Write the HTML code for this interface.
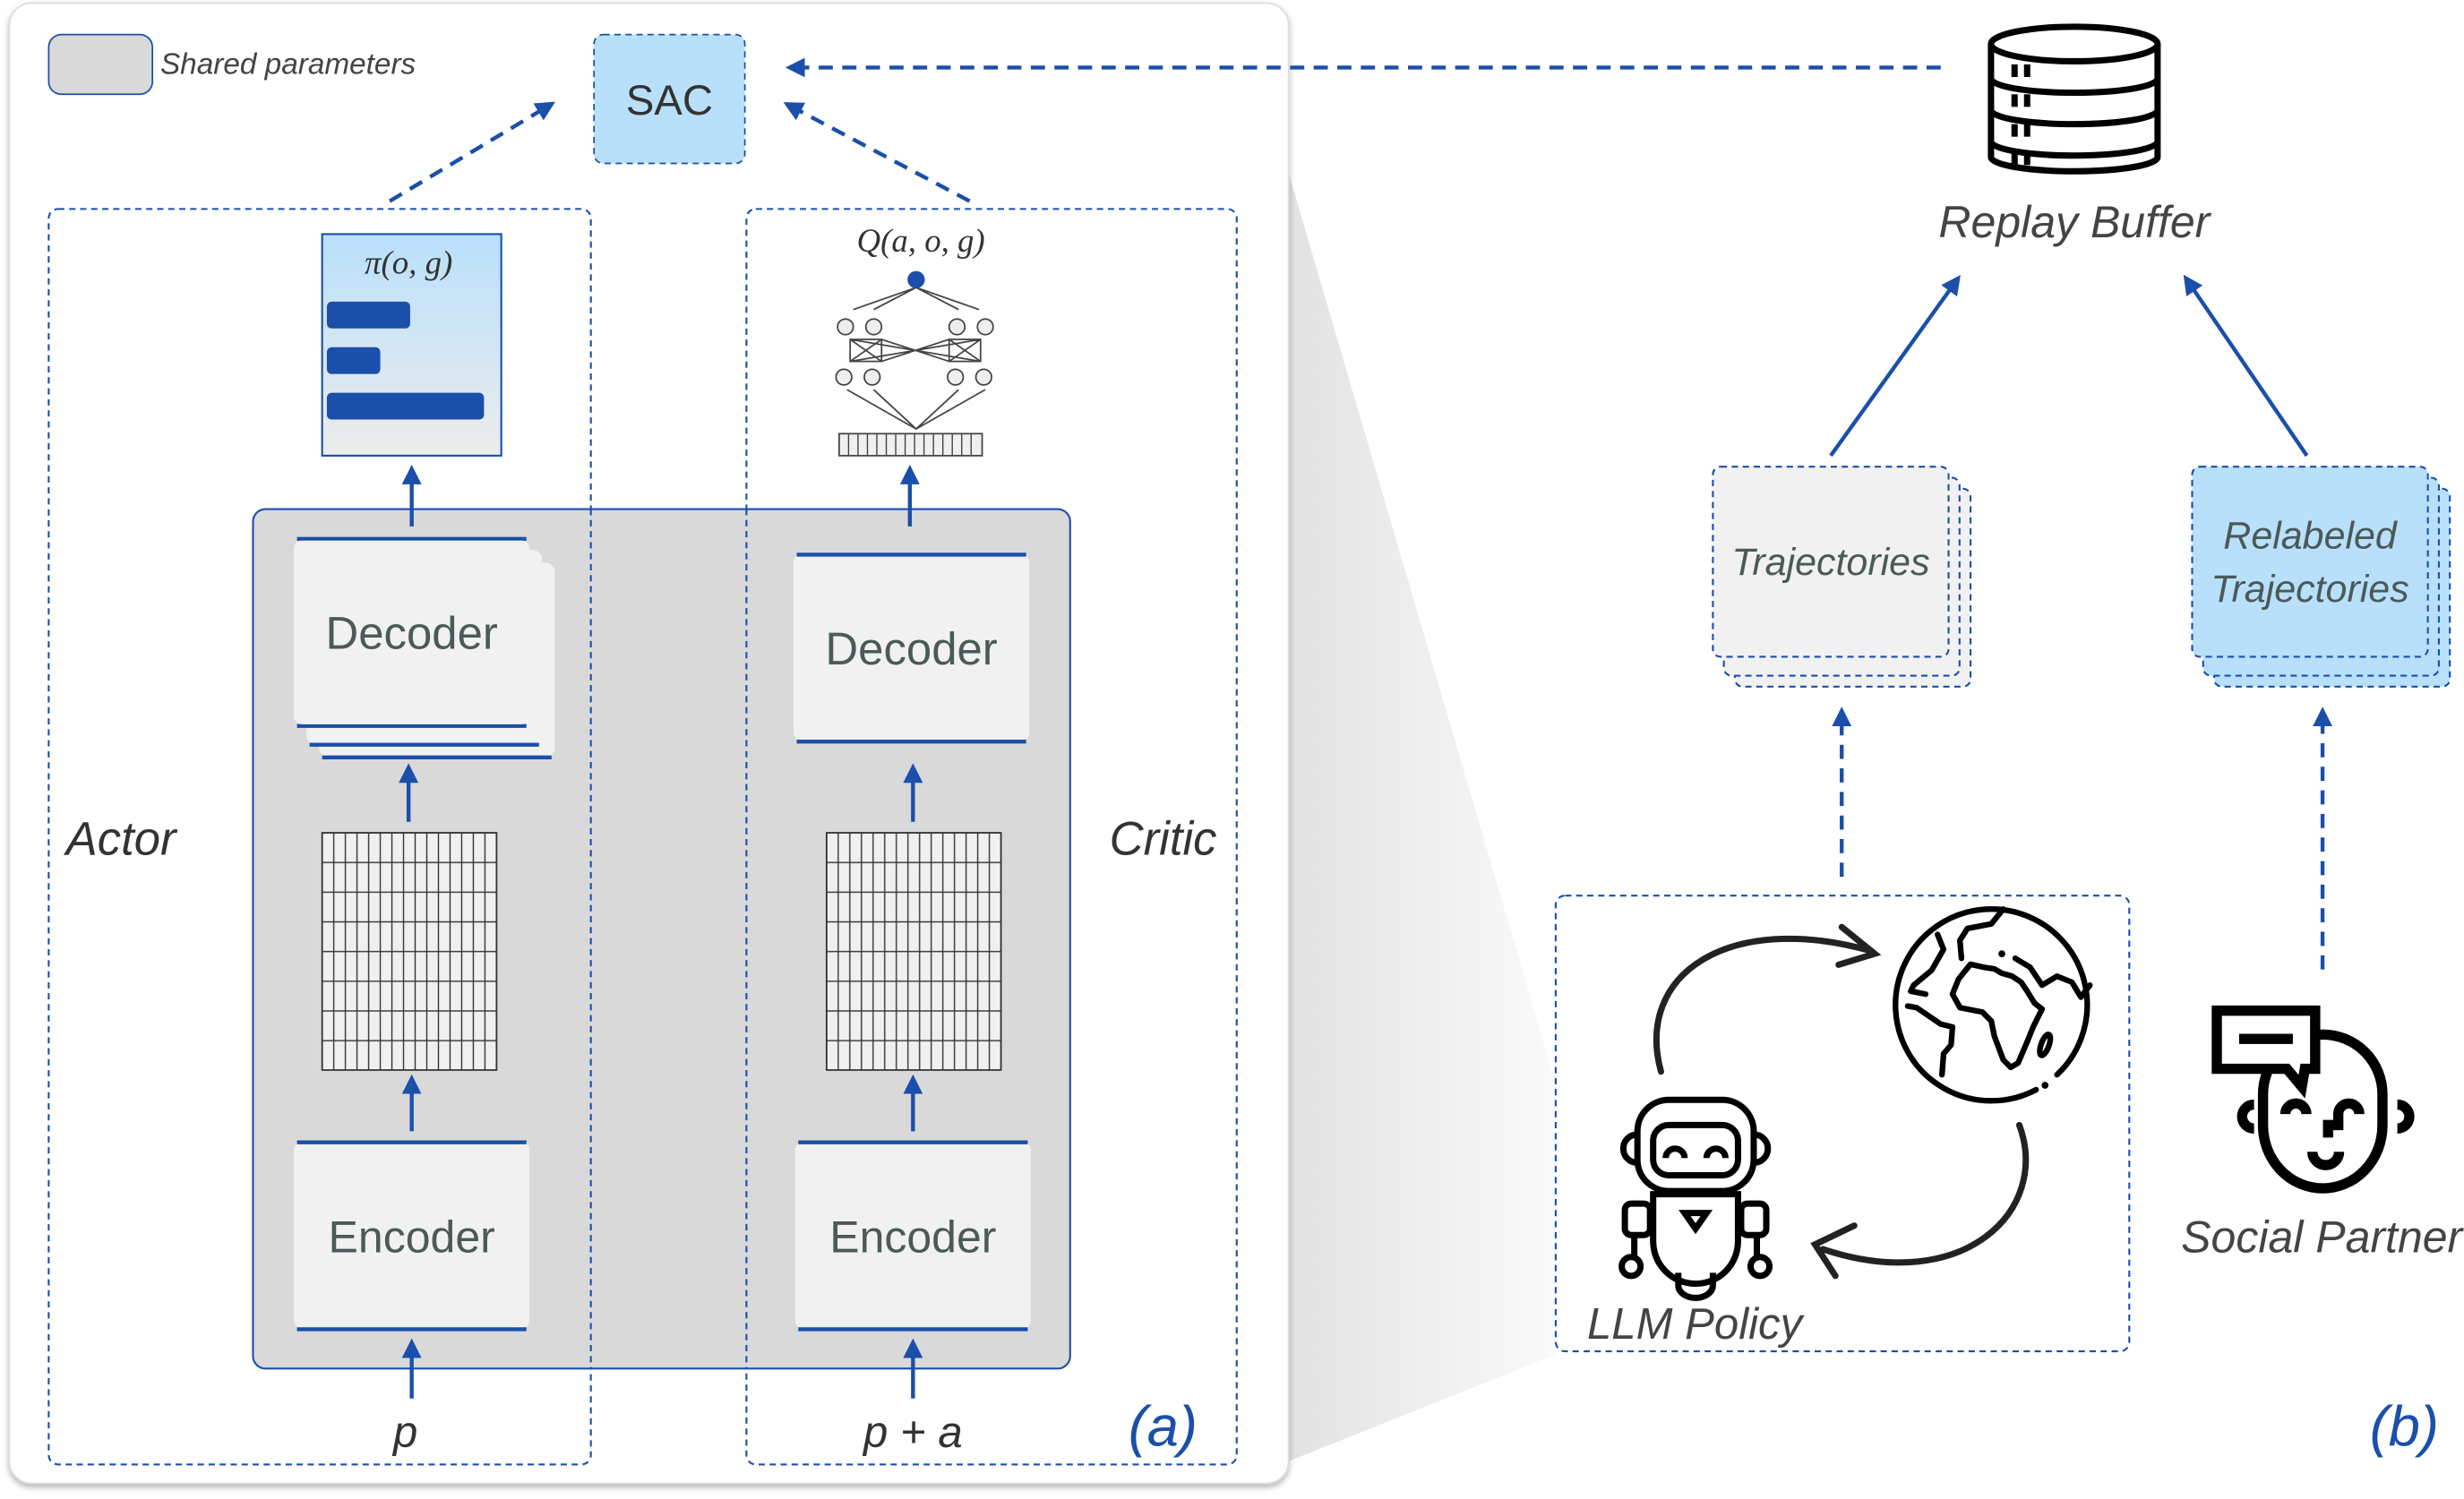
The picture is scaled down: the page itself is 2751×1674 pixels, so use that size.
<!DOCTYPE html>
<html><head><meta charset="utf-8"><style>
html,body{margin:0;padding:0;background:#fff;width:2751px;height:1674px;overflow:hidden}
svg{display:block}
text{font-family:"Liberation Sans",sans-serif}
</style></head><body>
<svg width="2751" height="1674" viewBox="0 0 1568 954" preserveAspectRatio="none" xmlns="http://www.w3.org/2000/svg">
<defs>
<marker id="ah" viewBox="0 0 10 10" refX="5" refY="5" markerWidth="5" markerHeight="5" orient="auto"><path d="M0,0 L10,5 L0,10 z" fill="#1a4faa"/></marker>
<linearGradient id="wedge" x1="0" y1="0" x2="1" y2="0"><stop offset="0" stop-color="#e2e2e2"/><stop offset="1" stop-color="#fafafa"/></linearGradient>
<linearGradient id="pi" x1="0" y1="0" x2="0" y2="1"><stop offset="0" stop-color="#b9e0fb"/><stop offset="1" stop-color="#ececec"/></linearGradient>
<filter id="sh" x="-5%" y="-5%" width="110%" height="110%"><feDropShadow dx="0" dy="2" stdDeviation="2" flood-color="#000" flood-opacity="0.3"/></filter>
<pattern id="grid" x="205" y="530" width="7.4" height="18.9" patternUnits="userSpaceOnUse"><rect width="7.4" height="18.9" fill="#f0f0f0" stroke="#333" stroke-width="0.8"/></pattern>
<pattern id="grid2" x="526" y="530" width="7.4" height="18.9" patternUnits="userSpaceOnUse"><rect width="7.4" height="18.9" fill="#f0f0f0" stroke="#333" stroke-width="0.8"/></pattern>
</defs>
<polygon points="820,110 990,690 990,862 820,930" fill="url(#wedge)"/>
<rect x="6" y="2" width="814" height="942" rx="14" fill="#fff" stroke="#ddd" stroke-width="1" filter="url(#sh)"/>
<rect x="31" y="22" width="66" height="38" rx="8" fill="#d9d9d9" stroke="#1a4faa" stroke-width="1"/>
<text x="102" y="47" font-size="19" font-style="italic" fill="#444">Shared parameters</text>
<rect x="378" y="22" width="96" height="82" rx="6" fill="#b9e0fb" stroke="#1a4faa" stroke-width="1" stroke-dasharray="4,3"/>
<text x="426" y="73" font-size="27" text-anchor="middle" fill="#333">SAC</text>
<g stroke="#1a4faa" stroke-width="2.5" stroke-dasharray="9,6" fill="none">
<line x1="1235" y1="43" x2="506" y2="43" marker-end="url(#ah)"/>
<line x1="248" y1="128" x2="348" y2="68" marker-end="url(#ah)"/>
<line x1="617" y1="128" x2="504" y2="68" marker-end="url(#ah)"/>
</g>
<rect x="31" y="133" width="345" height="799" rx="6" fill="none" stroke="#1a4faa" stroke-width="1.2" stroke-dasharray="4,3"/>
<rect x="475" y="133" width="312" height="799" rx="6" fill="none" stroke="#1a4faa" stroke-width="1.2" stroke-dasharray="4,3"/>
<rect x="161" y="324" width="520" height="547" rx="8" fill="#d9d9d9" stroke="#1a4faa" stroke-width="1.2"/>
<line x1="376" y1="324" x2="376" y2="871" stroke="#1a4faa" stroke-width="1.2" stroke-dasharray="4,3"/>
<line x1="475" y1="324" x2="475" y2="871" stroke="#1a4faa" stroke-width="1.2" stroke-dasharray="4,3"/>
<rect x="205" y="149" width="114" height="141" fill="url(#pi)" stroke="#1a4faa" stroke-width="1.2"/>
<text x="260" y="174" font-size="21" font-style="italic" text-anchor="middle" fill="#333" style="font-family:'Liberation Serif',serif">π(o, g)</text>
<g fill="#1a4faa"><rect x="208" y="192" width="53" height="17" rx="3"/><rect x="208" y="221" width="34" height="17" rx="3"/><rect x="208" y="250" width="100" height="17" rx="3"/></g>
<g stroke="#1a4faa" stroke-width="2.5" fill="none" marker-end="url(#ah)">
<line x1="262" y1="335" x2="262" y2="302"/>
<line x1="260" y1="523" x2="260" y2="492"/>
<line x1="262" y1="720" x2="262" y2="690"/>
<line x1="262" y1="890" x2="262" y2="858"/>
<line x1="579" y1="335" x2="579" y2="302"/>
<line x1="581" y1="523" x2="581" y2="492"/>
<line x1="581" y1="720" x2="581" y2="690"/>
<line x1="581" y1="890" x2="581" y2="858"/>
</g>
<g fill="#f1f1f1">
<rect x="203" y="358" width="150" height="124" rx="6"/>
<rect x="195" y="350" width="150" height="124" rx="6"/>
</g>
<g stroke="#1a4faa" stroke-width="2.5"><line x1="205" y1="482" x2="351" y2="482"/><line x1="197" y1="474" x2="343" y2="474"/><line x1="189" y1="462" x2="335" y2="462"/><line x1="189" y1="343" x2="335" y2="343"/></g>
<rect x="187" y="344" width="150" height="117" rx="5" fill="#f1f1f1"/>
<text x="262" y="413" font-size="29" text-anchor="middle" fill="#4a5a58">Decoder</text>
<rect x="205" y="530" width="111" height="151" fill="url(#grid)" stroke="#333" stroke-width="1"/>
<rect x="526" y="530" width="111" height="151" fill="url(#grid2)" stroke="#333" stroke-width="1"/>
<g fill="#f1f1f1"><rect x="187" y="726" width="150" height="120" rx="6"/><rect x="505" y="352" width="150" height="120" rx="6"/><rect x="506" y="726" width="150" height="120" rx="6"/></g>
<g stroke="#1a4faa" stroke-width="2.5">
<line x1="189" y1="727" x2="335" y2="727"/><line x1="189" y1="846" x2="335" y2="846"/>
<line x1="507" y1="353" x2="653" y2="353"/><line x1="507" y1="472" x2="653" y2="472"/>
<line x1="508" y1="727" x2="654" y2="727"/><line x1="508" y1="846" x2="654" y2="846"/>
</g>
<text x="262" y="797" font-size="28.5" text-anchor="middle" fill="#4a5a58">Encoder</text>
<text x="580" y="423" font-size="29" text-anchor="middle" fill="#4a5a58">Decoder</text>
<text x="581" y="797" font-size="28.5" text-anchor="middle" fill="#4a5a58">Encoder</text>
<text x="586" y="160" font-size="21" font-style="italic" text-anchor="middle" fill="#333" style="font-family:'Liberation Serif',serif">Q(a, o, g)</text>
<circle cx="583" cy="178" r="5.5" fill="#1a4faa"/>
<g stroke="#444" stroke-width="1" fill="none">
<path d="M543,197 L583,183 L623,197 M556,197 L583,183 L610,197"/>
<rect x="541" y="216" width="20" height="14"/><rect x="604" y="216" width="20" height="14"/>
<path d="M541,216 L561,230 M561,216 L541,230 M604,216 L624,230 M624,216 L604,230 M561,216 L604,230 M561,230 L604,216 M541,216 L624,230 M541,230 L624,216"/>
<path d="M539,248 L583,273 L627,248 M556,248 L583,273 L610,248"/>
</g>
<g fill="#eee" stroke="#444" stroke-width="1">
<circle cx="538" cy="208" r="5"/><circle cx="556" cy="208" r="5"/><circle cx="609" cy="208" r="5"/><circle cx="627" cy="208" r="5"/>
<circle cx="537" cy="240" r="5"/><circle cx="555" cy="240" r="5"/><circle cx="608" cy="240" r="5"/><circle cx="626" cy="240" r="5"/>
</g>
<rect x="534" y="276" width="91" height="14" fill="#f0f0f0" stroke="#444" stroke-width="1"/>
<g stroke="#444" stroke-width="0.8"><line x1="540" y1="276" x2="540" y2="290"/><line x1="546" y1="276" x2="546" y2="290"/><line x1="552" y1="276" x2="552" y2="290"/><line x1="558" y1="276" x2="558" y2="290"/><line x1="564" y1="276" x2="564" y2="290"/><line x1="570" y1="276" x2="570" y2="290"/><line x1="576" y1="276" x2="576" y2="290"/><line x1="582" y1="276" x2="582" y2="290"/><line x1="588" y1="276" x2="588" y2="290"/><line x1="594" y1="276" x2="594" y2="290"/><line x1="600" y1="276" x2="600" y2="290"/><line x1="606" y1="276" x2="606" y2="290"/><line x1="612" y1="276" x2="612" y2="290"/><line x1="618" y1="276" x2="618" y2="290"/></g>
<text x="42" y="544" font-size="30" font-style="italic" fill="#333">Actor</text>
<text x="706" y="544" font-size="30" font-style="italic" fill="#333">Critic</text>
<text x="258" y="921" font-size="28" font-style="italic" text-anchor="middle" fill="#333">p</text>
<text x="581" y="921" font-size="28" font-style="italic" text-anchor="middle" fill="#333">p + a</text>
<text x="740" y="920" font-size="36" font-style="italic" text-anchor="middle" fill="#1a4faa">(a)</text>
<text x="1530" y="920" font-size="36" font-style="italic" text-anchor="middle" fill="#1a4faa">(b)</text>
<g stroke="#000" stroke-width="4" fill="#fff">
<path d="M1267,28 L1267,100 A53,9 0 0 0 1373,100 L1373,28"/>
<ellipse cx="1320" cy="28" rx="53" ry="11"/>
<path d="M1267,50 A53,9 0 0 0 1373,50 M1267,70 A53,9 0 0 0 1373,70 M1267,90 A53,9 0 0 0 1373,90" fill="none"/>
</g>
<g fill="#000"><rect x="1280" y="41" width="4" height="8"/><rect x="1288" y="41" width="4" height="8"/><rect x="1280" y="60" width="4" height="8"/><rect x="1288" y="60" width="4" height="8"/><rect x="1280" y="79" width="4" height="8"/><rect x="1288" y="79" width="4" height="8"/><rect x="1280" y="97" width="4" height="8"/><rect x="1288" y="97" width="4" height="8"/></g>
<text x="1320" y="151" font-size="28.5" font-style="italic" text-anchor="middle" fill="#444">Replay Buffer</text>
<g stroke="#1a4faa" stroke-width="2.5" fill="none" marker-end="url(#ah)">
<line x1="1165" y1="290" x2="1244" y2="180"/>
<line x1="1468" y1="290" x2="1393" y2="180"/>
</g>
<g stroke="#1a4faa" stroke-width="1.2" stroke-dasharray="4,3">
<rect x="1104" y="311" width="150" height="126" rx="5" fill="#f1f1f1"/>
<rect x="1097" y="304" width="150" height="126" rx="5" fill="#f1f1f1"/>
<rect x="1090" y="297" width="150" height="121" rx="5" fill="#f1f1f1"/>
<rect x="1409" y="311" width="150" height="126" rx="5" fill="#b9e0fb"/>
<rect x="1402" y="304" width="150" height="126" rx="5" fill="#b9e0fb"/>
<rect x="1395" y="297" width="150" height="121" rx="5" fill="#b9e0fb"/>
</g>
<text x="1165" y="366" font-size="24.5" font-style="italic" text-anchor="middle" fill="#4a5a58">Trajectories</text>
<text x="1470" y="349" font-size="24.5" font-style="italic" text-anchor="middle" fill="#4a5a58">Relabeled</text>
<text x="1470" y="383" font-size="24.5" font-style="italic" text-anchor="middle" fill="#4a5a58">Trajectories</text>
<g stroke="#1a4faa" stroke-width="2.5" stroke-dasharray="9,6" fill="none" marker-end="url(#ah)">
<line x1="1172" y1="558" x2="1172" y2="456"/>
<line x1="1478" y1="617" x2="1478" y2="456"/>
</g>
<rect x="990" y="570" width="365" height="290" rx="6" fill="#fff" stroke="#1a4faa" stroke-width="1.2" stroke-dasharray="4,3"/>
<!-- globe -->
<g stroke="#000" stroke-width="3.6" fill="none" stroke-linecap="round" stroke-linejoin="round">
<path d="M1309,684 A61,61 0 1 0 1295.7,693.5"/>
<path d="M1253.9,613.7 L1246.3,623.2 L1242.5,632.7 L1247.3,641.3 L1261.5,644.1 L1267.2,649.8 L1269.1,659.3 L1274.8,674.5 L1279.6,679.3 L1284.3,676.4 L1290,663.1 L1293.8,653.6 L1299.5,642.2 L1294.7,638.4 L1290,630.8 L1286.2,625.1 L1280.5,621.3 L1273.9,619.4 L1269.1,616.6 L1262.5,615.6 Z"/>
<path d="M1248.2,609.9 L1247.2,598.5 L1252,590.9 L1267.2,588 L1274.8,578.6"/>
<path d="M1282.4,609.9 L1291.9,615.6 L1299.5,627 L1309,621.3 L1318.5,625.1 L1324.2,634.6 L1329.9,627"/>
<path d="M1233,594.7 L1236.8,604.2 L1229.2,617.5 L1217.8,627 L1215.9,630.8 L1225.4,632.7"/>
<path d="M1214,640.3 L1219.7,641.3 L1234.9,651.7 L1242.5,653.6 L1241.6,665 L1236.8,670.7 L1235.8,684"/>
<ellipse cx="1301.4" cy="665" rx="2.5" ry="7" transform="rotate(20 1301.4 665)"/>
</g>
<circle cx="1273.9" cy="607" r="2.2" fill="#000"/>
<circle cx="1301.4" cy="690.7" r="2.2" fill="#000"/>
<g stroke="#222" stroke-width="4" fill="none" stroke-linecap="round">
<path d="M1057,682 C1040,620 1100,580 1190,605"/>
<path d="M1172,590 L1193,607 L1170,614"/>
<path d="M1285,716 C1305,770 1250,825 1160,795"/>
<path d="M1180,780 L1155,792 L1168,812"/>
</g>
<g stroke="#000" stroke-width="4" fill="none">
<rect x="1042" y="700" width="74" height="58" rx="20"/>
<rect x="1052" y="716" width="54" height="32" rx="10"/>
<path d="M1060,737 a6,6 0 0 1 12,0 M1086,737 a6,6 0 0 1 12,0"/>
<path d="M1042,722 a9,9 0 0 0 0,18 M1116,722 a9,9 0 0 1 0,18"/>
<path d="M1052,760 L1106,760 L1106,790 A27,27 0 0 1 1052,790 Z"/>
<path d="M1072,772 L1086,772 L1079,782 Z"/>
<rect x="1034" y="766" width="16" height="20" rx="4"/><rect x="1108" y="766" width="16" height="20" rx="4"/>
<line x1="1040" y1="786" x2="1040" y2="800"/><line x1="1118" y1="786" x2="1118" y2="800"/>
<circle cx="1038" cy="806" r="6"/><circle cx="1120" cy="806" r="6"/>
<path d="M1068,810 L1068,818 A11,8 0 0 0 1090,818 L1090,810"/>
</g>
<text x="1010" y="852" font-size="28" font-style="italic" fill="#444">LLM Policy</text>
<!-- social partner -->
<g stroke="#000" stroke-width="6.5" fill="none">
<path d="M1434.4,703 a7.6,7.6 0 0 0 0,15.2 M1525.6,703 a7.6,7.6 0 0 1 0,15.2"/>
<path d="M1440.1,716.3 L1440.1,696.4 A38,38 0 0 1 1516.1,696.4 L1516.1,716.3 A38,40 0 0 1 1440.1,716.3 Z" fill="#fff"/>
<path d="M1410.7,643.2 L1473.3,643.2 L1473.3,680.2 L1466.7,680.2 L1464.8,691.6 L1455.3,680.2 L1410.7,680.2 Z" fill="#fff"/>
<line x1="1424.9" y1="661.2" x2="1459.1" y2="661.2"/>
<path d="M1454.3,709 a6.7,6.7 0 0 1 13.4,0"/>
<path d="M1488,709 a6.7,6.7 0 0 1 13.4,0 M1488,709 L1488,716 L1481.5,716 L1481.5,724"/>
<path d="M1471.5,733 a8.5,8.5 0 0 0 17,0"/>
</g>
<text x="1388" y="797" font-size="28.5" font-style="italic" fill="#444">Social Partner</text>
</svg>
</body></html>
